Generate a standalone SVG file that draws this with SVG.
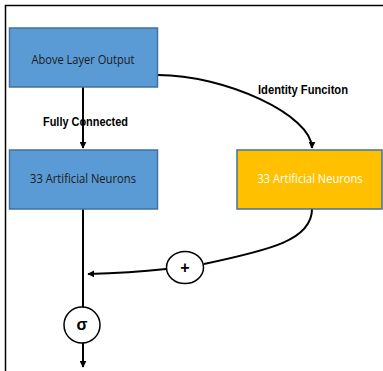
<svg xmlns="http://www.w3.org/2000/svg" width="383" height="371" viewBox="0 0 383 371">
  <style>
    .blue { fill: #5B9BD5; stroke: #41719C; stroke-width: 1.5; }
    .gold { fill: #FFC000; stroke: #41719C; stroke-width: 1.5; }
    .op { fill: #ffffff; stroke: #000000; stroke-width: 1.5; }
    .lbl { font-family: "Open Sans", "Liberation Sans", sans-serif; font-size: 12px; text-anchor: middle; dominant-baseline: central; }
    .bold { font-family: "Liberation Sans", "Open Sans", sans-serif; font-size: 12px; font-weight: bold; fill: #000; }
    .sym { font-family: "Liberation Sans", sans-serif; font-size: 16px; font-weight: bold; text-anchor: middle; dominant-baseline: central; fill: #000; }
    .wire { fill: none; stroke: #000; stroke-width: 2; }
  </style>
  <defs>
    <marker id="arrow" viewBox="0 0 10 10" refX="9" refY="5" markerWidth="3.5" markerHeight="3.5" orient="auto" markerUnits="strokeWidth">
      <path d="M0,0 L10,5 L0,10 z" fill="#000"/>
    </marker>
  </defs>

  <!-- frame -->
  <path d="M5.5,371 L5.5,5.5 L383,5.5" fill="none" stroke="#000" stroke-width="1.5"/>

  <!-- connectors -->
  <g id="connectors">
    <path class="wire" d="M83,87 L83,148" marker-end="url(#arrow)"/>
    <path class="wire" d="M158,75 C225,75 312,115 312,148" marker-end="url(#arrow)"/>
    <path class="wire" d="M83,209 L83,307"/>
    <path class="wire" d="M312,209 C312,240 270,250 204,264"/>
    <path class="wire" d="M166,269 Q130,273 88,274" marker-end="url(#arrow)"/>
    <path class="wire" d="M83,343 L83,367" marker-end="url(#arrow)"/>
  </g>

  <!-- edge labels -->
  <text class="bold" x="258" y="94" textLength="90" lengthAdjust="spacingAndGlyphs">Identity Funciton</text>
  <text class="bold" x="43" y="126" textLength="85" lengthAdjust="spacingAndGlyphs">Fully Connected</text>

  <g id="above">
    <rect class="blue" x="9.5" y="28" width="148" height="59"/>
    <text class="lbl" x="83" y="59" fill="#1a1a1a" textLength="103" lengthAdjust="spacingAndGlyphs">Above Layer Output</text>
  </g>

  <g id="fc-neurons">
    <rect class="blue" x="9.5" y="150" width="148" height="59"/>
    <text class="lbl" x="83" y="178" fill="#1a1a1a" textLength="106" lengthAdjust="spacingAndGlyphs">33 Artificial Neurons</text>
  </g>

  <g id="id-neurons">
    <rect class="gold" x="237" y="150" width="145" height="59"/>
    <text class="lbl" x="310" y="178" fill="#ffffff" textLength="105" lengthAdjust="spacingAndGlyphs">33 Artificial Neurons</text>
  </g>

  <g id="add">
    <ellipse class="op" cx="185" cy="267.5" rx="18.5" ry="16"/>
    <text class="sym" x="185" y="267">+</text>
  </g>

  <g id="sigma">
    <ellipse class="op" cx="82" cy="325" rx="18" ry="18"/>
    <text class="sym" x="82" y="324">σ</text>
  </g>
</svg>
